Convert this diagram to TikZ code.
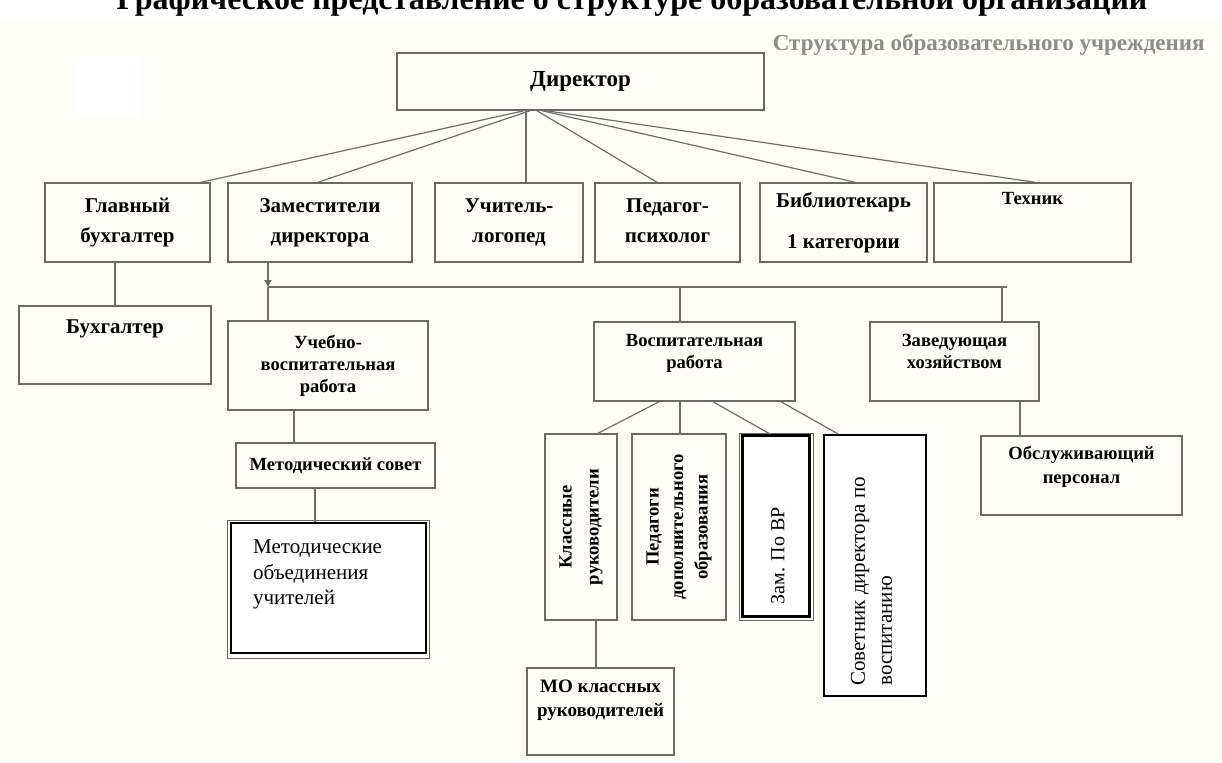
\documentclass[tikz,border=0pt]{standalone}
\usepackage{fontspec}
\setmainfont{Liberation Serif}
\usetikzlibrary{positioning,arrows.meta}

\definecolor{bgcream}{RGB}{254,254,247}
\definecolor{boxgray}{RGB}{105,105,105}
\definecolor{linegray}{RGB}{110,110,110}
\definecolor{headgray}{RGB}{140,140,140}

\tikzset{
  box/.style={draw=boxgray, line width=0.75pt, inner sep=0pt, align=center},
  heavybox/.style={draw=black, line width=1.25pt, inner sep=0pt, fill=white},
  conn/.style={draw=linegray, line width=0.6pt},
  bigtxt/.style={font=\bfseries\fontsize{10.5}{15}\selectfont},
  smtxt/.style={font=\bfseries\fontsize{9.3}{11}\selectfont, align=center, inner sep=0pt},
  regtxt/.style={font=\fontsize{10.5}{12.75}\selectfont, align=left, inner sep=0pt},
}

\begin{document}
\begin{tikzpicture}[x=0.5pt, y=-0.5pt]

    \useasboundingbox (0,0) rectangle (1222,762);
    \fill[bgcream] (0,0) rectangle (1222,762);
    \fill[white] (0,0) rectangle (1222,22);
    \fill[white] (77,56) rectangle (141,117);

    % title line, cut at the top edge
    \begin{scope}
        \clip (0,0) rectangle (1222,22);
        \node[anchor=base, inner sep=0pt, font=\bfseries\fontsize{16}{18}\selectfont] (title) at (632,9)
            {Графическое представление о структуре образовательной организации};
    \end{scope}

    \node[anchor=base east, inner sep=0pt, text=headgray, font=\bfseries\fontsize{11.5}{13}\selectfont] (head)
        at (1205,50) {Структура образовательного учреждения};

    % top
    \node[box, minimum width=183.5pt, minimum height=28.5pt, font=\bfseries\fontsize{11.5}{14}\selectfont] (dir)
        at (580.5,81.5) {Директор};

    % second row
    \node[box, bigtxt, minimum width=82.5pt, minimum height=39.5pt] (glav) at (127.5,222.5) {Главный\\бухгалтер};
    \node[box, bigtxt, minimum width=92pt, minimum height=39.5pt] (zam) at (320,222.5) {Заместители\\директора};
    \node[box, bigtxt, minimum width=74pt, minimum height=39.5pt] (logo) at (509,222.5) {Учитель-\\логопед};
    \node[box, bigtxt, minimum width=72.5pt, minimum height=39.5pt] (psy) at (667.5,222.5) {Педагог-\\психолог\vphantom{р}};
    \node[box, bigtxt, minimum width=83.5pt, minimum height=39.5pt] (bib) at (843.5,222.5) {Библиотекарь\\[5.5pt]1 категории};
    \node[box, minimum width=98.5pt, minimum height=39.5pt] (tech) at (1032.5,222.5) {};
    \node[smtxt, below=5pt of tech.north] (techtxt) {Техник};

    \node[box, minimum width=96pt, minimum height=39pt] (buh) at (115,345) {};
    \node[bigtxt, inner sep=0pt, below=7pt of buh.north] (buhtxt) {Бухгалтер};

    % third row
    \node[box, smtxt, minimum width=100pt, minimum height=44.5pt] (uvr) at (328,365.5) {Учебно-\\воспитательная\\работа};
    \node[box, minimum width=100.5pt, minimum height=39.5pt] (vr) at (694.5,361.5) {};
    \node[smtxt, below=6.5pt of vr.north] (vrtxt) {Воспитательная\\работа};
    \node[box, minimum width=84.5pt, minimum height=39.5pt] (zav) at (954.5,361.5) {};
    \node[smtxt, below=6.5pt of zav.north] (zavtxt) {Заведующая\\хозяйством};

    \node[box, smtxt, minimum width=99.5pt, minimum height=22.5pt] (metsov) at (335.5,465.5) {Методический совет};
    \node[box, minimum width=100.5pt, minimum height=39.5pt] (obs) at (1081.5,475.5) {};
    \node[smtxt, below=5.5pt of obs.north, font=\bfseries\fontsize{9.3}{12}\selectfont] (obstxt) {Обслуживающий\\персонал};

    % framed boxes
    \node[heavybox, minimum width=97.5pt, minimum height=65pt] (metob) at (328.5,588) {};
    \draw[draw=boxgray, line width=0.6pt] ([shift={(-1pt,0.5pt)}]metob.north west) rectangle ([shift={(1pt,-2pt)}]metob.south east);
    \node[regtxt, anchor=north west] (metobtxt) at ([shift={(11.5pt,-9pt)}]metob.north west)
        {Методические\\объединения\\учителей};

    % vertical boxes
    \node[box, minimum width=36pt, minimum height=93pt] (klas) at (581,527) {};
    \node[smtxt, rotate=90, font=\bfseries\fontsize{9.3}{13.5}\selectfont] (klastxt) at (klas) {Классные\\руководители};
    \node[box, minimum width=47pt, minimum height=93pt] (pdo) at (679,527) {};
    \node[smtxt, rotate=90, font=\bfseries\fontsize{9.3}{12.25}\selectfont] (pdotxt) at (pdo) {Педагоги\\дополнительного\\образования};
    \node[heavybox, minimum width=33.3pt, minimum height=90.5pt] (zamvr) at (776,526) {};
    \draw[draw=boxgray, line width=0.6pt] ([shift={(-1pt,0.5pt)}]zamvr.north west) rectangle ([shift={(1.5pt,-1.5pt)}]zamvr.south east);
    \node[regtxt, rotate=90, anchor=west, font=\fontsize{10}{12}\selectfont] (zamvrtxt) at ([shift={(1pt,6.5pt)}]zamvr.south) {Зам. По ВР};
    \node[heavybox, line width=1.1pt, minimum width=51pt, minimum height=130.5pt] (sov) at (875,565.5) {};
    \node[regtxt, rotate=90, anchor=west, font=\fontsize{10.5}{13.5}\selectfont] (sovtxt) at ([shift={(-1.75pt,5.5pt)}]sov.south)
        {Советник директора по\\воспитанию};

    \node[box, minimum width=73.5pt, minimum height=43.5pt] (mo) at (600.5,711.5) {};
    \node[smtxt, below=6pt of mo.north, font=\bfseries\fontsize{9.5}{12}\selectfont] (motxt) {МО классных\\руководителей};

    % connectors
    \foreach \n/\a/\b in {glav/-28.25pt/36.75pt, zam/-25.25pt/-1pt, logo/-27.25pt/8.5pt,
                          psy/-21.75pt/-5.25pt, bib/-19.25pt/5.75pt, tech/-17.25pt/1.25pt}
        \draw[conn] ([xshift=\a]dir.south) -- ([xshift=\b]\n.north);

    \draw[conn] (buh.north |- glav.south) -- (buh.north);

    \coordinate (bus) at (268,287);
    \coordinate (busend) at (1007,287);
    \coordinate (vrtap) at ([xshift=-7.25pt]vr.north);
    \coordinate (zavtap) at ([xshift=23.75pt]zav.north);
    \draw[conn, -{Triangle[width=3.5pt,length=3.5pt]}] (bus |- zam.south) -- (bus);
    \draw[conn] (bus) -- (busend);
    \draw[conn] (bus) -- (bus |- uvr.north);
    \draw[conn] (vrtap |- bus) -- (vrtap);
    \draw[conn] (zavtap |- bus) -- (zavtap);

    \draw[conn] ([xshift=-17pt]uvr.south) -- ([xshift=-20.75pt]metsov.north);
    \draw[conn] ([xshift=-10.25pt]metsov.south) -- ([xshift=-6.75pt]metob.north);

    \foreach \n/\a/\b in {klas/-17.75pt/8.5pt, pdo/-7.25pt/0.5pt, zamvr/9.25pt/-2.75pt, sov/43.25pt/-18.5pt}
        \draw[conn] ([xshift=\a]vr.south) -- ([xshift=\b]\n.north);

    \draw[conn] ([xshift=7.5pt]klas.south) -- ([xshift=-2.25pt]mo.north);
    \draw[conn] ([xshift=32.75pt]zav.south) -- ([xshift=-30.75pt]obs.north);

\end{tikzpicture}
\end{document}
